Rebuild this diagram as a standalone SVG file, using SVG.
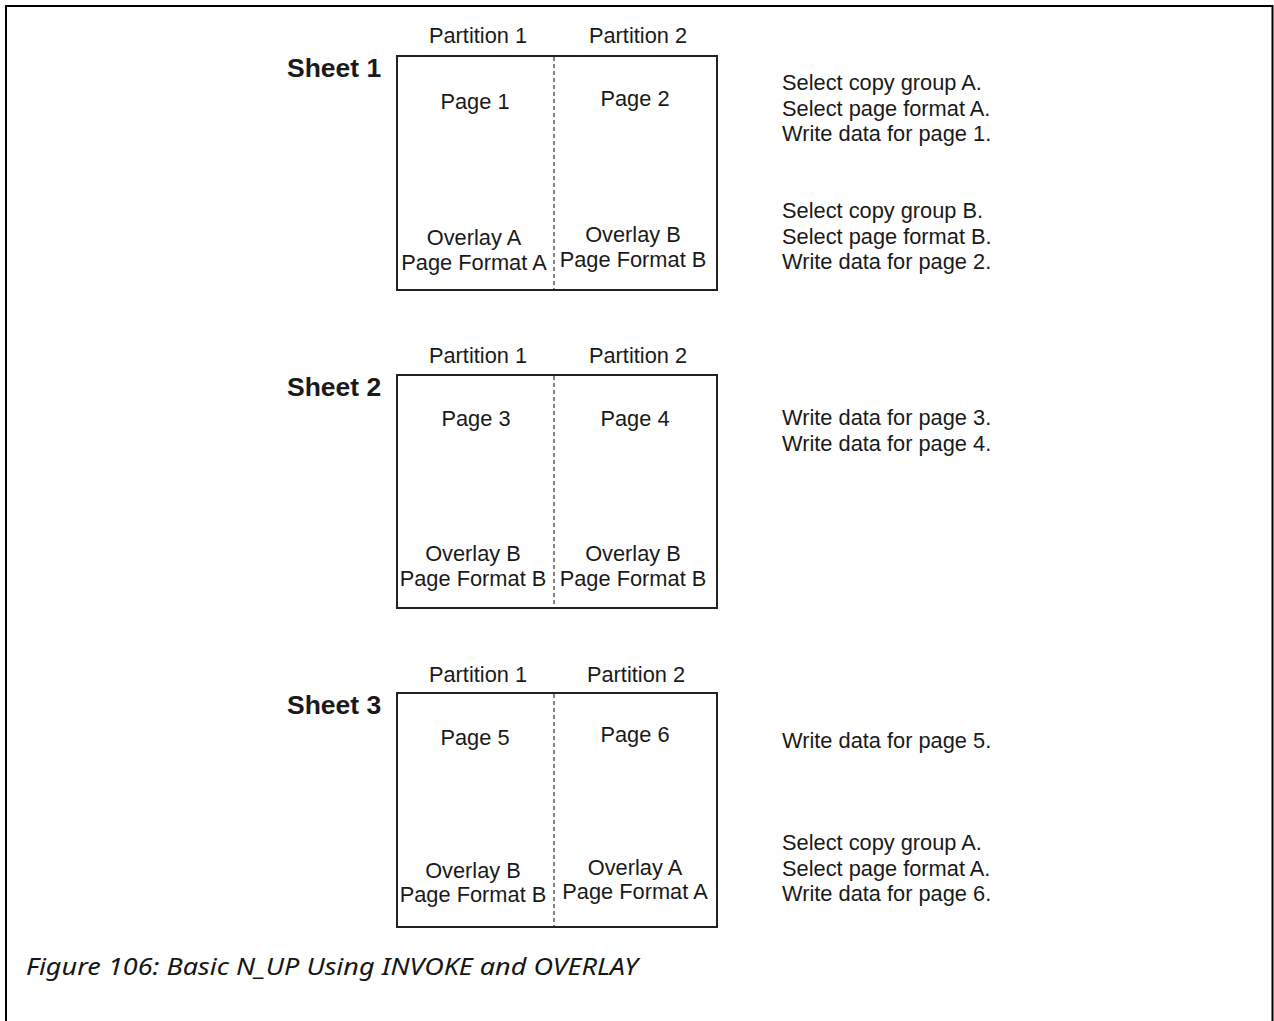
<svg xmlns="http://www.w3.org/2000/svg" width="1274" height="1021" viewBox="0 0 1274 1021">
<style>
.t{font-family:"Liberation Sans",Arial,sans-serif;font-size:21.8px;fill:#1a1a1a}
.m{text-anchor:middle}
.s{font-family:"Liberation Sans",Arial,sans-serif;font-size:26.5px;font-weight:bold;fill:#1a1a1a}
.box{fill:none;stroke:#222;stroke-width:2}
.div{stroke:#333;stroke-width:1.2;stroke-dasharray:4 3}
.cap{font-family:"Noto Sans","Open Sans",sans-serif;font-style:italic;font-size:24px;fill:#161616}
</style>
<rect width="1274" height="1021" fill="#fff"/>
<path d="M6,1021 V6 H1272.5 V1021" fill="none" stroke="#000" stroke-width="2"/>

<g id="sheet1">
<text class="s" x="287" y="77">Sheet 1</text>
<text class="t m" x="478" y="43">Partition 1</text>
<text class="t m" x="638" y="43">Partition 2</text>
<rect class="box" x="397" y="56" width="320" height="234"/>
<line class="div" x1="554" y1="57" x2="554" y2="289"/>
<text class="t m" x="475" y="109">Page 1</text>
<text class="t m" x="635" y="106">Page 2</text>
<text class="t m" x="474" y="245">Overlay A</text>
<text class="t m" x="474" y="270">Page Format A</text>
<text class="t m" x="633" y="242">Overlay B</text>
<text class="t m" x="633" y="267">Page Format B</text>
</g>
<g id="notes1">
<text class="t" x="782" y="90">Select copy group A.</text>
<text class="t" x="782" y="115.5">Select page format A.</text>
<text class="t" x="782" y="141">Write data for page 1.</text>
<text class="t" x="782" y="218">Select copy group B.</text>
<text class="t" x="782" y="243.5">Select page format B.</text>
<text class="t" x="782" y="269">Write data for page 2.</text>
</g>

<g id="sheet2">
<text class="s" x="287" y="396">Sheet 2</text>
<text class="t m" x="478" y="362.5">Partition 1</text>
<text class="t m" x="638" y="362.5">Partition 2</text>
<rect class="box" x="397" y="375" width="320" height="233"/>
<line class="div" x1="554" y1="376" x2="554" y2="607"/>
<text class="t m" x="476" y="426">Page 3</text>
<text class="t m" x="635" y="426">Page 4</text>
<text class="t m" x="473" y="561">Overlay B</text>
<text class="t m" x="473" y="585.5">Page Format B</text>
<text class="t m" x="633" y="561">Overlay B</text>
<text class="t m" x="633" y="585.5">Page Format B</text>
</g>
<g id="notes2">
<text class="t" x="782" y="425">Write data for page 3.</text>
<text class="t" x="782" y="451">Write data for page 4.</text>
</g>

<g id="sheet3">
<text class="s" x="287" y="714">Sheet 3</text>
<text class="t m" x="478" y="682">Partition 1</text>
<text class="t m" x="636" y="682">Partition 2</text>
<rect class="box" x="397" y="693" width="320" height="234"/>
<line class="div" x1="554" y1="694" x2="554" y2="926"/>
<text class="t m" x="475" y="745">Page 5</text>
<text class="t m" x="635" y="742">Page 6</text>
<text class="t m" x="473" y="878">Overlay B</text>
<text class="t m" x="473" y="902">Page Format B</text>
<text class="t m" x="635" y="875">Overlay A</text>
<text class="t m" x="635" y="899">Page Format A</text>
</g>
<g id="notes3">
<text class="t" x="782" y="748">Write data for page 5.</text>
<text class="t" x="782" y="850">Select copy group A.</text>
<text class="t" x="782" y="875.5">Select page format A.</text>
<text class="t" x="782" y="901">Write data for page 6.</text>
</g>

<g id="caption">
<text class="cap" x="26" y="975" textLength="612" lengthAdjust="spacingAndGlyphs">Figure 106: Basic N_UP Using INVOKE and OVERLAY</text>
</g>
<g id="connectors"/>
</svg>
